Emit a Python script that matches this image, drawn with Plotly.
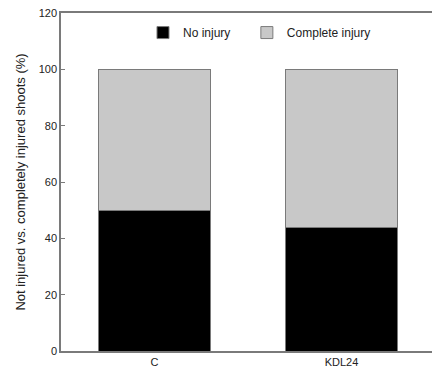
import plotly.graph_objects as go

categories = ["C", "KDL24"]
no_injury = [50, 43.8]
complete_injury = [50, 56.2]
y_ticks = [0, 20, 40, 60, 80, 100, 120]

font_family = "Liberation Sans, Arial, sans-serif"
edge = "#7a7a7a"

fig = go.Figure()
fig.add_trace(go.Bar(
    x=categories, y=no_injury, name="No injury",
    marker=dict(color="#000000", line=dict(color=edge, width=1)),
    width=0.6, legend="legend",
))
fig.add_trace(go.Bar(
    x=categories, y=complete_injury, name="Complete injury",
    marker=dict(color="#c8c8c8", line=dict(color=edge, width=1)),
    width=0.6, legend="legend2",
))

legend_style = dict(
    orientation="h", y=0.985, xanchor="left", yanchor="top",
    font=dict(size=12, color="#222222"), bgcolor="rgba(0,0,0,0)",
    itemwidth=30,
)

fig.update_layout(
    width=432, height=369,
    barmode="stack",
    plot_bgcolor="white", paper_bgcolor="white",
    margin=dict(l=61, r=0, t=13, b=18, autoexpand=False),
    font=dict(family=font_family, size=11, color="#222222"),
    showlegend=True,
    legend=dict(x=0.221, **legend_style),
    legend2=dict(x=0.501, **legend_style),
    xaxis=dict(
        range=[-0.5, 1.484], showline=True, linecolor=edge, linewidth=1.5,
        mirror=True, ticks="", showgrid=False, zeroline=False,
        tickfont=dict(size=11, color="#222222"),
    ),
    yaxis=dict(
        range=[0, 120], tickvals=y_ticks, showline=True, linecolor=edge,
        linewidth=1.5, ticks="inside", ticklen=4, tickcolor=edge,
        showgrid=False, zeroline=False,
        tickfont=dict(size=11, color="#222222"),
        title=dict(text="Not injured vs. completely injured shoots (%)",
                   font=dict(size=13, color="#222222"), standoff=10),
        automargin=False,
    ),
    yaxis2=dict(
        range=[0, 120], tickvals=y_ticks, overlaying="y", side="right",
        showline=False, ticks="inside", ticklen=4, tickcolor=edge,
        showticklabels=False, showgrid=False, zeroline=False,
    ),
)

fig.write_html(
    "out.html",
    config={"displayModeBar": False},
    post_script="document.body.style.margin='0';document.body.style.overflow='hidden';",
)
